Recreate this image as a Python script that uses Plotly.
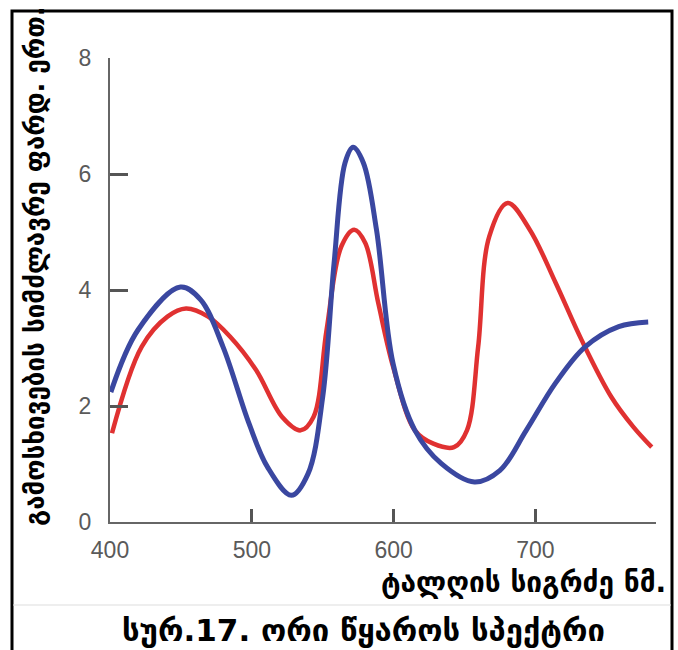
import plotly.graph_objects as go

# Wavelength (nm) and relative power for the two sources
blue_x = [400.6, 419.7, 449.7, 464, 479.7, 498, 511, 527.9, 539.6, 550, 558, 565.7, 571.4, 578.7, 587.9, 599.6, 615, 633.5, 657, 675, 693.5, 714, 735, 758.7, 779.5]
blue_y = [2.24, 3.31, 4.05, 3.83, 3.02, 1.70, 0.95, 0.46, 0.83, 2.16, 4.46, 6.19, 6.46, 6.19, 5.04, 2.73, 1.58, 1.01, 0.69, 0.89, 1.58, 2.39, 3.02, 3.37, 3.45]

red_x = [401.4, 422.3, 440.5, 453.6, 469.2, 484.9, 503, 521.4, 534.4, 543.5, 552.7, 563.1, 572.2, 580, 589.2, 599.6, 615, 628, 642.6, 651.7, 659.6, 667.4, 680.4, 696, 714.3, 732.5, 753.4, 769, 782]
red_y = [1.53, 3.02, 3.54, 3.68, 3.54, 3.19, 2.62, 1.81, 1.58, 1.81, 3.31, 4.75, 5.04, 4.81, 3.77, 2.68, 1.58, 1.35, 1.29, 1.58, 3.02, 4.92, 5.50, 5.04, 4.12, 3.14, 2.16, 1.64, 1.29]

x_ticks = [400, 500, 600, 700]
y_ticks = [0, 2, 4, 6, 8]

y_title = "გამოსხივების სიმძლავრე ფარდ. ერთ."
x_title = "ტალღის სიგრძე ნმ."
caption = "სურ.17. ორი წყაროს სპექტრი"

W, H = 678, 650
L, R, T, B = 110, 22, 58, 128
pw, ph = W - L - R, H - T - B

def px(xp):
    return (xp - L) / pw

def py(yp):
    return (H - B - yp) / ph

fig = go.Figure()
fig.add_trace(go.Scatter(x=red_x, y=red_y, mode="lines",
                         line=dict(color="#e03131", width=4.5, shape="spline", smoothing=1.0),
                         hoverinfo="skip", showlegend=False))
fig.add_trace(go.Scatter(x=blue_x, y=blue_y, mode="lines",
                         line=dict(color="#3a47a0", width=5, shape="spline", smoothing=1.0),
                         hoverinfo="skip", showlegend=False))

geo = "DejaVu Sans"
tickfont = dict(family="Liberation Sans, Arial", size=23, color="#5a5a5a")
fig.update_layout(
    width=W, height=H,
    margin=dict(l=L, r=R, t=T, b=B),
    paper_bgcolor="white", plot_bgcolor="white",
    xaxis=dict(range=[400, 785], tickvals=x_ticks, ticks="inside", ticklen=13, tickwidth=2.5,
               tickcolor="#555555", showline=True, linecolor="#666666", linewidth=2,
               showgrid=False, zeroline=False, ticklabelstandoff=6,
               tickfont=tickfont),
    yaxis=dict(range=[0, 8], tickvals=y_ticks, ticks="inside", ticklen=18, tickwidth=2.5,
               tickcolor="#555555", showline=True, linecolor="#666666", linewidth=2,
               showgrid=False, zeroline=False, ticklabelstandoff=12,
               tickfont=tickfont),
    shapes=[
        dict(type="rect", xref="paper", yref="paper", x0=px(12), x1=px(672), y0=py(700), y1=py(11),
             line=dict(color="black", width=3), fillcolor="rgba(0,0,0,0)", layer="above"),
        dict(type="line", xref="paper", yref="paper", x0=px(13), x1=px(671), y0=py(605), y1=py(605),
             line=dict(color="#dddddd", width=1)),
    ],
    annotations=[
        dict(text="<b>" + y_title + "</b>", xref="paper", yref="paper", x=px(35), y=py(266), textangle=-90,
             showarrow=False, xanchor="center", yanchor="middle",
             font=dict(family=geo, size=26, color="black")),
        dict(text="<b>" + x_title + "</b>", xref="paper", yref="paper", x=px(668), y=py(582),
             showarrow=False, xanchor="right", yanchor="middle",
             font=dict(family=geo, size=28, color="black")),
        dict(text="<b>" + caption + "</b>", xref="paper", yref="paper", x=px(363), y=py(630),
             showarrow=False, xanchor="center", yanchor="middle",
             font=dict(family=geo, size=31, color="black")),
    ],
)

fig.write_html("out.html")
